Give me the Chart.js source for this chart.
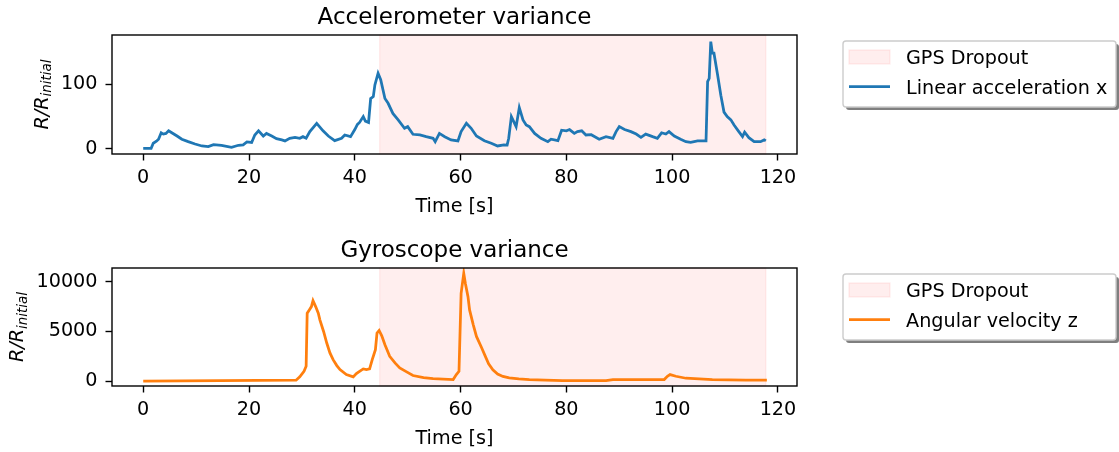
<!DOCTYPE html>
<html>
<head>
<meta charset="utf-8">
<script src="https://cdn.jsdelivr.net/npm/chart.js@4/dist/chart.umd.min.js"></script>
<style>
  html, body { margin: 0; padding: 0; background: #ffffff; }
  #wrap { position: relative; width: 1119px; height: 452px; }
  .panel { position: absolute; left: 0; width: 1119px; height: 226px; }
</style>
</head>
<body>
<div id="wrap">
  <div class="panel" style="top:0"><canvas id="accel" width="1119" height="226"></canvas></div>
  <div class="panel" style="top:226px"><canvas id="gyro" width="1119" height="226"></canvas></div>
</div>
<script>
// Accelerometer variance ratio (linear acceleration x) over time [s]
const accelTime = [0, 1.5, 1.9, 2.5, 2.9, 3.4, 3.8, 4.3, 4.8, 5.4, 6.4, 7.3, 8.5, 9.8, 11.1, 12.3, 13.3, 14.8, 16.7, 18, 18.9, 19.6, 20.5,
  21.1, 21.8, 22.7, 23.3, 24.3, 25.2, 26.2, 26.8, 27.7, 28.7, 29.6, 30.2, 30.8, 31.5, 32.8, 34, 35, 36.2, 37.5, 38.1, 39.2,
  40, 40.5, 40.9, 41.6, 42, 42.6, 43, 43.5, 43.8, 44.4, 44.9, 45.7, 46.3, 47.2, 48.2, 49.4, 50, 51, 52.3, 53.5, 54.8, 55.2,
  56, 57, 58.2, 59.5, 60.1, 61.1, 62, 63, 64.5, 65.8, 67, 68.2, 68.8, 69.1, 69.6, 70.5, 71.1, 71.8, 72.4, 73, 74, 75.2, 76.5,
  77.1, 78.4, 79.1, 80, 80.6, 81.5, 82.1, 82.9, 83.7, 84.7, 86.2, 87.5, 88.8, 89.4, 90, 91, 92.2, 93.2, 94.1, 95, 96.3, 97.2,
  98, 98.8, 99.4, 100.4, 101.6, 102.6, 103.5, 104.8, 106.4, 106.7, 107, 107.3, 107.6, 107.9, 108.6, 109.2, 109.8, 110.4,
  111.1, 111.7, 112.6, 113.3, 113.7, 114.5, 115.5, 116.7, 117.4, 117.7];
const accelRatio = [1, 1, 8.8, 12, 15, 25, 23, 24, 28, 25, 20, 15, 11.3, 7.7, 4.6, 3.6, 6.6, 5.7, 2.6, 5.7, 6.2, 10.8, 10,
  21.6, 28, 20, 24, 20, 16, 14, 12.4, 16.5, 18, 16.5, 19, 16.5, 26.8, 39.6, 28, 20, 12.8, 16.5, 21.6, 19,
  30, 38, 41, 50, 43, 41, 78, 81, 99, 117, 107, 78, 70.6, 55, 45, 32, 34.5, 22.7, 21.6, 19, 16.5, 11.3,
  24, 19, 14, 12.4, 26.8, 39.6, 32, 20, 12.8, 8.8, 4.6, 6.2, 6, 16.5, 50, 34.5, 64, 45, 37, 34.5, 24, 16.5, 11.3,
  15, 12.8, 29, 28, 30, 24, 26.8, 28, 21.6, 22, 15, 19, 16.5, 26.8, 34.5, 30, 26.8, 23, 18, 23, 19, 16.5,
  25, 23, 26.8, 20, 15, 11.3, 10.3, 12.4, 12.4, 104, 109, 166, 148, 148, 114, 83, 57, 50,
  45, 37, 26.8, 19, 26, 17.5, 11.3, 11.3, 14, 12.4];

// Gyroscope variance ratio (angular velocity z) over time [s]
const gyroTime = [0, 28.9, 29.6, 30.4, 30.8, 31, 31.4, 31.8, 32.1, 32.6, 33.1, 33.4, 34.1, 34.7, 35.3, 35.9, 36.6, 37.2,
  38.4, 39.7, 40.3, 40.9, 41.6, 42.2, 42.8, 43.3, 43.9, 44.2, 44.6, 45.1, 45.7, 46.6, 47.6, 48.5, 49.8, 51, 53, 54.8, 58.6,
  59.2, 59.7, 60.1, 60.6, 60.9, 61.4, 61.7, 62.4, 63, 64, 64.6, 65.3, 66.1, 67, 68, 69.2, 71, 73, 76, 79.3, 87.5, 88.8,
  98.5, 99.1, 99.6, 100.7, 102.6, 107.6, 113.9, 117.9];
const gyroRatio = [0, 100, 440, 1000, 1500, 6840, 7170, 7500, 8100, 7500, 6840, 6170, 5000, 3840, 2840, 2170, 1570, 1170,
  670, 440, 770, 1000, 1240, 1170, 1240, 2170, 3170, 4840, 5100, 4570, 3670, 2500, 1840, 1340, 940, 570, 370, 270, 170,
  670, 1000, 8840, 10840, 9840, 8500, 7170, 5670, 4500, 3340, 2600, 1750, 1150, 720, 480, 340, 240, 170, 110, 70, 70, 170,
  170, 500, 670, 500, 300, 170, 100, 100];

// Tick labels and the GPS dropout interval [s]
const timeTicks = [0, 20, 40, 60, 80, 100, 120];
const accelTicks = [0, 100];
const gyroTicks = [0, 5000, 10000];
const gpsDropout = [44.7, 117.7];

const FAMILY = "'DejaVu Sans', 'Liberation Sans', sans-serif";
const BASE = 19.2;
const TITLE = 23;
const SPAN_FILL = 'rgba(255, 0, 0, 0.065)';

function roundRect(ctx, x, y, w, h, r) {
  ctx.beginPath();
  ctx.moveTo(x + r, y);
  ctx.lineTo(x + w - r, y);
  ctx.quadraticCurveTo(x + w, y, x + w, y + r);
  ctx.lineTo(x + w, y + h - r);
  ctx.quadraticCurveTo(x + w, y + h, x + w - r, y + h);
  ctx.lineTo(x + r, y + h);
  ctx.quadraticCurveTo(x, y + h, x, y + h - r);
  ctx.lineTo(x, y + r);
  ctx.quadraticCurveTo(x, y, x + r, y);
  ctx.closePath();
}

// Span shading, axes frame, title, y label and the boxed legend
function decor(cfg) {
  return {
    id: 'decor_' + cfg.key,
    beforeDatasetsDraw(chart) {
      const { ctx, chartArea: a, scales: { x } } = chart;
      const x0 = x.getPixelForValue(gpsDropout[0]);
      const x1 = x.getPixelForValue(gpsDropout[1]);
      ctx.save();
      ctx.fillStyle = SPAN_FILL;
      ctx.fillRect(x0, a.top, x1 - x0, a.bottom - a.top);
      ctx.strokeStyle = SPAN_FILL;
      ctx.lineWidth = 1.4;
      ctx.strokeRect(x0, a.top, x1 - x0, a.bottom - a.top);
      ctx.restore();
    },
    afterDraw(chart) {
      const { ctx, chartArea: a } = chart;
      ctx.save();

      // frame
      ctx.strokeStyle = '#000';
      ctx.lineWidth = 1.4;
      ctx.strokeRect(a.left, a.top, a.right - a.left, a.bottom - a.top);

      // title
      ctx.fillStyle = '#000';
      ctx.font = `${TITLE}px ${FAMILY}`;
      ctx.textAlign = 'center';
      ctx.textBaseline = 'alphabetic';
      ctx.fillText(cfg.title, (a.left + a.right) / 2, a.top - 10.7);

      // y label R/R_initial
      ctx.font = `${BASE}px ${FAMILY}`;
      const widest = Math.max(...cfg.yTicks.map(v => ctx.measureText(String(v)).width));
      const tickLeft = a.left - 6.5 - 8 - widest;
      const baseX = tickLeft - 13;
      const cy = (a.top + a.bottom) / 2;
      ctx.translate(baseX, cy);
      ctx.rotate(-Math.PI / 2);
      ctx.textAlign = 'left';
      ctx.font = `italic ${BASE}px ${FAMILY}`;
      const w1 = ctx.measureText('R/R').width;
      ctx.font = `italic ${BASE * 0.7}px ${FAMILY}`;
      const w2 = ctx.measureText('initial').width;
      const start = -(w1 + w2) / 2;
      ctx.font = `italic ${BASE}px ${FAMILY}`;
      ctx.fillText('R/R', start, 0);
      ctx.font = `italic ${BASE * 0.7}px ${FAMILY}`;
      ctx.fillText('initial', start + w1, 3.2);
      ctx.setTransform(1, 0, 0, 1, 0, 0);

      // legend
      const L = 843, T = a.top + 6, W = 273, H = 66;
      ctx.fillStyle = 'rgba(0,0,0,0.5)';
      roundRect(ctx, L + 3, T + 3, W, H, 3);
      ctx.fill();
      ctx.fillStyle = '#fff';
      roundRect(ctx, L, T, W, H, 3);
      ctx.fill();
      ctx.strokeStyle = '#cccccc';
      ctx.lineWidth = 1.4;
      ctx.stroke();

      ctx.fillStyle = SPAN_FILL;
      ctx.fillRect(849, T + 9, 41, 14);
      ctx.strokeStyle = SPAN_FILL;
      ctx.strokeRect(849, T + 9, 41, 14);

      ctx.strokeStyle = cfg.color;
      ctx.lineWidth = 2.77;
      ctx.beginPath();
      ctx.moveTo(849, T + 45.7);
      ctx.lineTo(890, T + 45.7);
      ctx.stroke();

      ctx.fillStyle = '#000';
      ctx.font = `${BASE}px ${FAMILY}`;
      ctx.textAlign = 'left';
      ctx.textBaseline = 'alphabetic';
      ctx.fillText('GPS Dropout', 906, T + 23.3);
      ctx.fillText(cfg.label, 906, T + 53);

      ctx.restore();
    }
  };
}

function makePanel(canvasId, cfg) {
  const tickFont = { family: FAMILY, size: BASE };
  const grid = { drawOnChartArea: false, drawTicks: true, tickLength: 6.5, tickWidth: 1.4, tickColor: '#000' };
  return new Chart(document.getElementById(canvasId), {
    type: 'line',
    data: {
      datasets: [{
        label: cfg.label,
        data: cfg.xs.map((t, i) => ({ x: t, y: cfg.ys[i] })),
        borderColor: cfg.color,
        borderWidth: 2.77,
        pointRadius: 0,
        tension: 0,
        fill: false
      }]
    },
    options: {
      responsive: false,
      devicePixelRatio: 1,
      animation: false,
      layout: { padding: { left: 0, right: 322, top: cfg.top, bottom: cfg.bottom } },
      plugins: { legend: { display: false }, title: { display: false }, tooltip: { enabled: false } },
      scales: {
        x: {
          type: 'linear',
          min: -5.9,
          max: 123.6,
          afterBuildTicks: s => { s.ticks = timeTicks.map(v => ({ value: v })); },
          afterFit: s => { s.height = 65; },
          ticks: { font: tickFont, color: '#000', padding: 6, maxRotation: 0, autoSkip: false, callback: v => String(v) },
          grid,
          border: { display: false },
          title: { display: true, text: 'Time [s]', color: '#000', font: tickFont, padding: 0 }
        },
        y: {
          type: 'linear',
          min: cfg.yMin,
          max: cfg.yMax,
          afterBuildTicks: s => { s.ticks = cfg.yTicks.map(v => ({ value: v })); },
          afterFit: s => { s.width = 112; },
          ticks: { font: tickFont, color: '#000', padding: 8, autoSkip: false, callback: v => String(v) },
          grid,
          border: { display: false }
        }
      }
    },
    plugins: [decor(cfg)]
  });
}

makePanel('accel', {
  key: 'accel', title: 'Accelerometer variance', label: 'Linear acceleration x', color: '#1f77b4',
  xs: accelTime, ys: accelRatio, yTicks: accelTicks, yMin: -7.8, yMax: 176.2, top: 35, bottom: 7
});
makePanel('gyro', {
  key: 'gyro', title: 'Gyroscope variance', label: 'Angular velocity z', color: '#ff7f0e',
  xs: gyroTime, ys: gyroRatio, yTicks: gyroTicks, yMin: -480, yMax: 11380, top: 42, bottom: 1
});
</script>
</body>
</html>
